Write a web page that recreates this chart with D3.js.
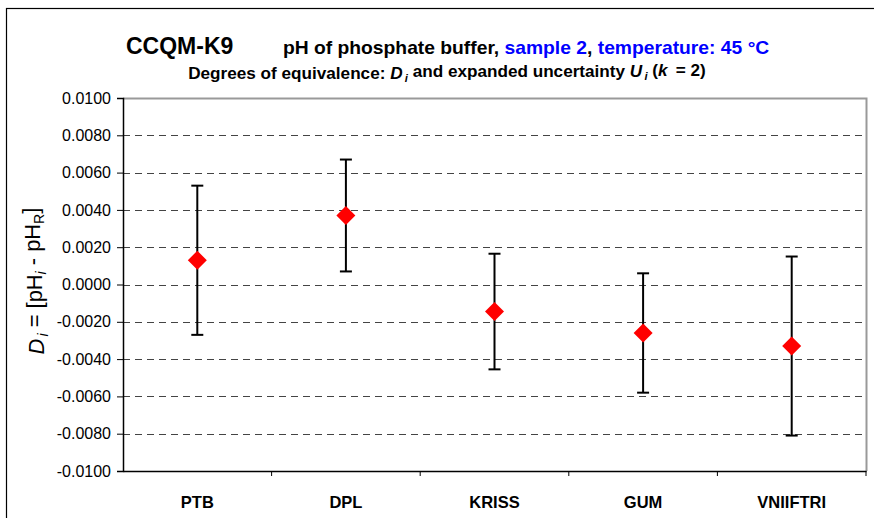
<!DOCTYPE html>
<html>
<head>
<meta charset="utf-8">
<script src="https://cdn.jsdelivr.net/npm/d3@7"></script>
<style>
  body { margin: 0; background: #fff; }
  svg { font-family: "Liberation Sans", Arial, sans-serif; }
</style>
</head>
<body>
<div id="chart"></div>
<script>
// data
const labs = ["PTB", "DPL", "KRISS", "GUM", "VNIIFTRI"];
const di = [0.0013, 0.0037, -0.00145, -0.0026, -0.0033];
const ui = [0.0040, 0.0030, 0.0031, 0.0032, 0.0048];
const yTicks = [-0.01, -0.008, -0.006, -0.004, -0.002, 0, 0.002, 0.004, 0.006, 0.008, 0.01];

const width = 874, height = 518;
const margin = {top: 98, left: 123, right: 8, bottom: 47};

const svg = d3.select("#chart").append("svg")
    .attr("width", width)
    .attr("height", height);

//scales a text's font size so it spans the wanted width
function fitText(sel, w) {
    let fs = +sel.attr("font-size");
    let cur = sel.node().getBBox().width;
    sel.attr("font-size", fs * w / cur);
}

// outer frame (runs off the right / bottom edge)
svg.append("rect")
    .attr("x", 6.5).attr("y", 8.5)
    .attr("width", 1000).attr("height", 1000)
    .attr("fill", "none").attr("stroke", "#000").attr("stroke-width", 1.2);

let x = d3.scaleBand()
    .domain(labs)
    .range([margin.left, width - margin.right]);

let y = d3.scaleLinear()
    .domain([-0.01, 0.01])
    .range([height - margin.bottom, margin.top]);

//gridlines
svg.append("g").selectAll("line")
    .data(yTicks.filter(d => d > -0.01 && d < 0.01))
    .join("line")
    .attr("x1", margin.left).attr("x2", width - margin.right)
    .attr("y1", d => Math.round(y(d)) + 0.5).attr("y2", d => Math.round(y(d)) + 0.5)
    .attr("stroke", "#444").attr("stroke-width", 1)
    .attr("stroke-dasharray", "7,5");

// top and right borders of plot area
svg.append("path")
    .attr("d", "M" + margin.left + "," + (y(0.01) + 0.5) + "H" + (width - margin.right + 0.5) + "V" + y(-0.01))
    .attr("fill", "none").attr("stroke", "#999").attr("stroke-width", 2);

// y axis
let yAxis = d3.axisLeft(y)
    .tickValues(yTicks)
    .tickSize(6)
    .tickPadding(6)
    .tickFormat(d3.format(".4f"));

const gy = svg.append("g")
    .attr("transform", "translate(" + margin.left + ",0)")
    .call(yAxis);
gy.select(".domain").attr("stroke", "#000").attr("stroke-width", 1.5);
gy.selectAll(".tick text")
    .attr("font-size", 16).attr("fill", "#000")
    .text(d => d < 0 ? "-" + d3.format(".4f")(-d) : d3.format(".4f")(d));

// x axis at the bottom
let xAxis = d3.axisBottom(x)
    .tickSize(5)
    .tickSizeOuter(0)
    .tickPadding(20);

const gx = svg.append("g")
    .attr("transform", "translate(0," + y(-0.01) + ")")
    .call(xAxis);
gx.select(".domain").attr("stroke", "#000").attr("stroke-width", 1.5);
gx.selectAll(".tick line")
    .attr("transform", "translate(" + x.bandwidth() / 2 + ",0)");
gx.selectAll(".tick text")
    .attr("font-size", 16.5).attr("font-weight", "bold").attr("fill", "#000");

// error bars
const pts = labs.map((l, i) => ({l: l, d: di[i], u: ui[i]}));
const cx = d => x(d.l) + x.bandwidth() / 2;
const bars = svg.append("g").attr("stroke", "#000").attr("stroke-width", 2);
bars.selectAll(".stem").data(pts).join("line")
    .attr("x1", cx).attr("x2", cx)
    .attr("y1", d => y(d.d + d.u)).attr("y2", d => y(d.d - d.u));
bars.selectAll(".capt").data(pts).join("line")
    .attr("x1", d => cx(d) - 6).attr("x2", d => cx(d) + 6)
    .attr("y1", d => y(d.d + d.u)).attr("y2", d => y(d.d + d.u));
bars.selectAll(".capb").data(pts).join("line")
    .attr("x1", d => cx(d) - 6).attr("x2", d => cx(d) + 6)
    .attr("y1", d => y(d.d - d.u)).attr("y2", d => y(d.d - d.u));

// diamonds
svg.append("g").selectAll("path").data(pts).join("path")
    .attr("transform", d => "translate(" + cx(d) + "," + y(d.d) + ")")
    .attr("d", "M0,-9.5L9.5,0L0,9.5L-9.5,0Z")
    .attr("fill", "#ff0000");

// titles
svg.append("text")
    .attr("x", 126).attr("y", 54)
    .attr("font-weight", "bold").attr("font-size", 23)
    .text("CCQM-K9");

const t1 = svg.append("text")
    .attr("x", 283).attr("y", 54)
    .attr("font-weight", "bold").attr("font-size", 19);
t1.append("tspan").text("pH of phosphate buffer, ");
t1.append("tspan").attr("fill", "#0000ff").text("sample 2");
t1.append("tspan").text(", ");
t1.append("tspan").attr("fill", "#0000ff").text("temperature: 45 °C");
fitText(t1, 487);

const t2 = svg.append("text")
    .attr("x", 447).attr("y", 79)
    .attr("text-anchor", "middle")
    .attr("font-size", 15).attr("font-weight", "bold");
t2.append("tspan").text("Degrees of equivalence: ");
t2.append("tspan").attr("font-style", "italic").text("D");
t2.append("tspan").attr("font-style", "italic").attr("font-size", "0.65em").attr("dx", "0.2em").attr("dy", "0.25em").text("i");
t2.append("tspan").attr("dy", "-0.25em").text(" and expanded uncertainty ");
t2.append("tspan").attr("font-style", "italic").text("U");
t2.append("tspan").attr("font-style", "italic").attr("font-size", "0.65em").attr("dx", "0.2em").attr("dy", "0.25em").text("i");
t2.append("tspan").attr("dy", "-0.25em").text(" (");
t2.append("tspan").attr("font-style", "italic").text("k");
t2.append("tspan").attr("dx", "0.2em").text(" = 2)");
fitText(t2, 518);

// y axis label
const yl = svg.append("text")
    .attr("transform", "translate(44,281) rotate(-90)")
    .attr("text-anchor", "middle")
    .attr("font-size", 18);
yl.append("tspan").attr("font-style", "italic").text("D");
yl.append("tspan").attr("font-style", "italic").attr("font-size", "0.65em").attr("dx", "0.15em").attr("dy", "0.25em").text("i");
yl.append("tspan").attr("dy", "-0.25em").text("  = [pH");
yl.append("tspan").attr("font-style", "italic").attr("font-size", "0.65em").attr("dy", "0.25em").text("i");
yl.append("tspan").attr("dy", "-0.25em").text(" - pH");
yl.append("tspan").attr("font-size", "0.65em").attr("dy", "0.25em").text("R");
yl.append("tspan").attr("dy", "-0.25em").text("]");
fitText(yl, 147);
</script>
</body>
</html>
